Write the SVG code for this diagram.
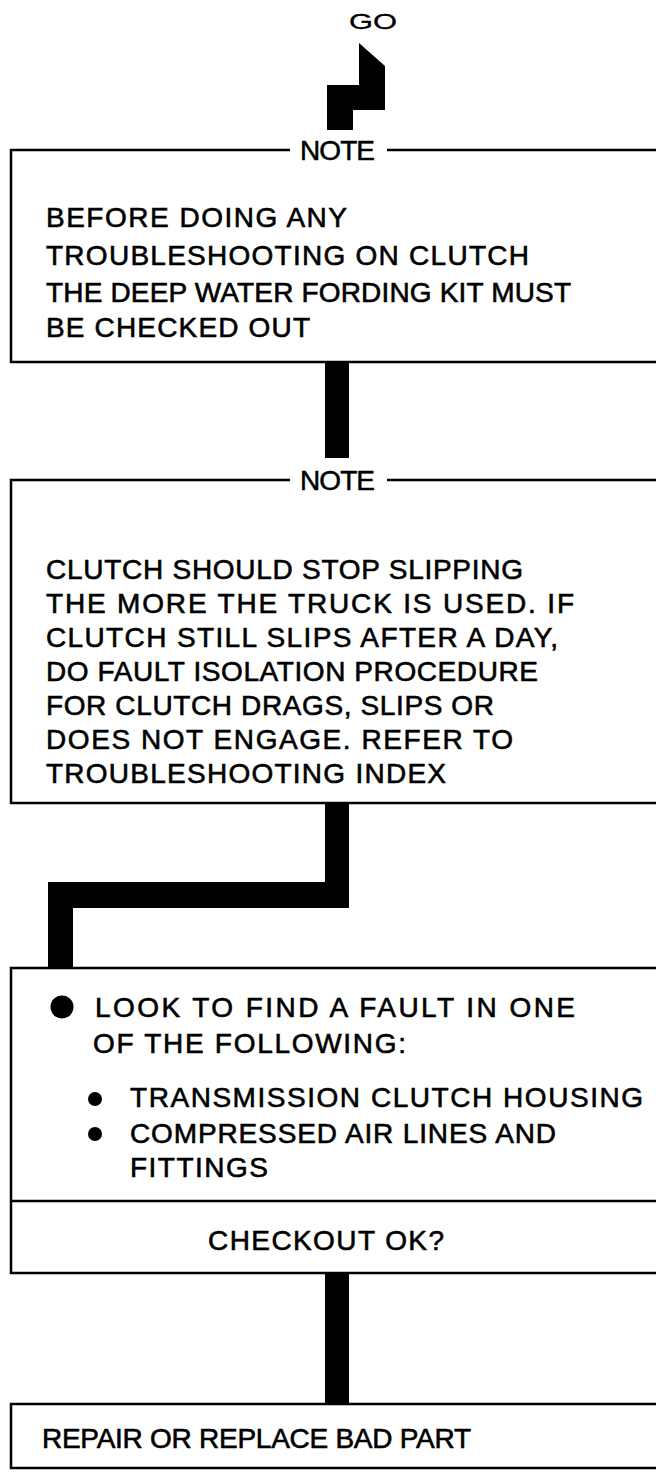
<svg xmlns="http://www.w3.org/2000/svg" width="656" height="1473" viewBox="0 0 656 1473">
<style>
.t{font-family:"Liberation Sans",Arial,sans-serif;font-size:28px;fill:#000;stroke:#000;stroke-width:0.6}
.h{font-family:"Liberation Sans",Arial,sans-serif;font-size:28px;fill:#000;stroke:#000;stroke-width:0.5}
.g{font-family:"Liberation Sans",Arial,sans-serif;font-size:22px;fill:#000;stroke:#000;stroke-width:0.3}
.b{fill:none;stroke:#000;stroke-width:2.5}
.c{fill:#000}
</style>
<rect width="656" height="1473" fill="#fff"/>
<g id="start"><text class="g" x="349" y="29" textLength="48" lengthAdjust="spacingAndGlyphs">GO</text></g>
<g id="connectors">
<polygon class="c" points="359,43 385,66 385,110 353,110 353,130 327,130 327,85 359,85"/>
<rect class="c" x="325" y="362" width="24" height="96"/>
<polygon class="c" points="325,803 349,803 349,908 73,908 73,968 48,968 48,882 325,882"/>
<rect class="c" x="325" y="1273" width="24" height="131"/>
</g>
<g id="note1">
<path class="b" d="M290,150 H11 V362 H660 M387,150 H660"/>
<text class="h" x="300" y="160" textLength="75">NOTE</text>
<text class="t" x="46" y="227" textLength="301">BEFORE DOING ANY</text>
<text class="t" x="46" y="265" textLength="483">TROUBLESHOOTING ON CLUTCH</text>
<text class="t" x="46" y="302" textLength="525">THE DEEP WATER FORDING KIT MUST</text>
<text class="t" x="46" y="337" textLength="264">BE CHECKED OUT</text>
</g>
<g id="note2">
<path class="b" d="M290,480 H11 V803 H660 M387,480 H660"/>
<text class="h" x="300" y="490" textLength="75">NOTE</text>
<text class="t" x="46" y="579" textLength="477">CLUTCH SHOULD STOP SLIPPING</text>
<text class="t" x="46" y="613" textLength="528">THE MORE THE TRUCK IS USED.  IF</text>
<text class="t" x="46" y="647" textLength="512">CLUTCH STILL SLIPS AFTER A DAY,</text>
<text class="t" x="46" y="681" textLength="492">DO FAULT ISOLATION PROCEDURE</text>
<text class="t" x="46" y="715" textLength="448">FOR CLUTCH DRAGS, SLIPS OR</text>
<text class="t" x="46" y="749" textLength="467">DOES NOT ENGAGE.  REFER TO</text>
<text class="t" x="46" y="783" textLength="400">TROUBLESHOOTING INDEX</text>
</g>
<g id="check">
<path class="b" d="M660,968 H11 V1273 H660 M11,1201 H660"/>
<circle class="c" cx="62" cy="1007" r="11.5"/>
<text class="t" x="95" y="1017" textLength="480">LOOK TO FIND A FAULT IN ONE</text>
<text class="t" x="93" y="1053" textLength="313">OF THE FOLLOWING:</text>
<circle class="c" cx="95" cy="1099" r="7"/>
<text class="t" x="130" y="1107" textLength="513">TRANSMISSION CLUTCH HOUSING</text>
<circle class="c" cx="95" cy="1134" r="7"/>
<text class="t" x="130" y="1143" textLength="426">COMPRESSED AIR LINES AND</text>
<text class="t" x="130" y="1177" textLength="138">FITTINGS</text>
<text class="t" x="208" y="1250" textLength="236">CHECKOUT OK?</text>
</g>
<g id="repair">
<path class="b" d="M660,1404 H11 V1468 H660"/>
<text class="t" x="42" y="1448" textLength="429">REPAIR OR REPLACE BAD PART</text>
</g>
</svg>
